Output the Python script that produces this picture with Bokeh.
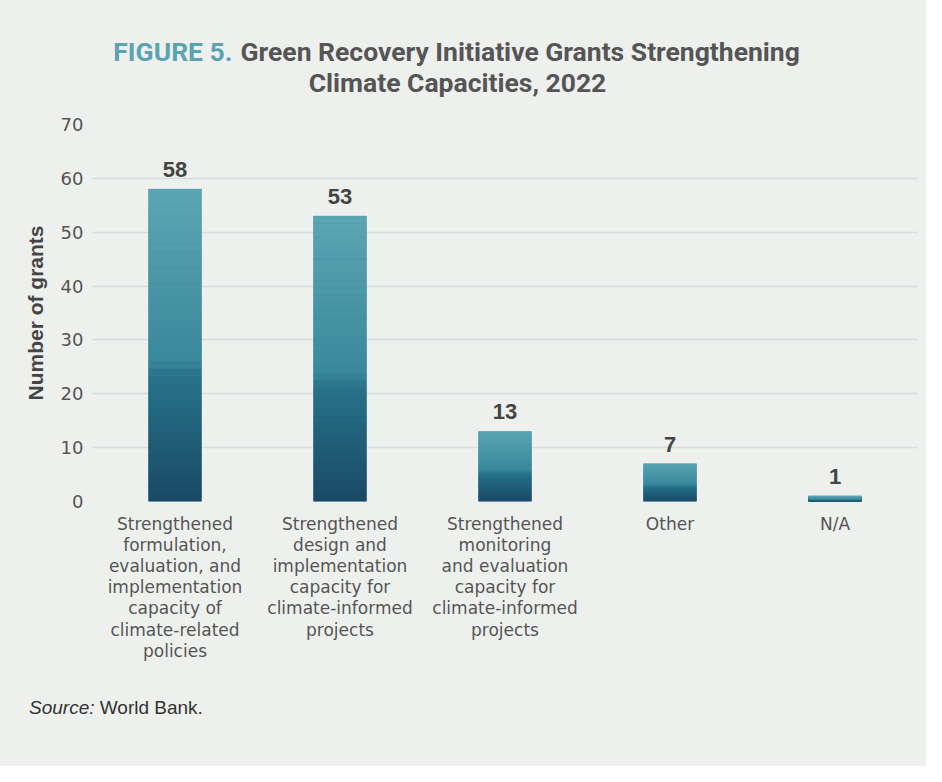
from bokeh.plotting import figure
from bokeh.layouts import column
from bokeh.models import Label, LabelSet, ColumnDataSource, Range1d, Div
from bokeh.core.properties import value
from bokeh.embed import file_html
from bokeh.resources import INLINE

# ---- data ----
categories = [
    "Strengthened\nformulation,\nevaluation, and\nimplementation\ncapacity of\nclimate-related\npolicies",
    "Strengthened\ndesign and\nimplementation\ncapacity for\nclimate-informed\nprojects",
    "Strengthened\nmonitoring\nand evaluation\ncapacity for\nclimate-informed\nprojects",
    "Other",
    "N/A",
]
values = [58, 53, 13, 7, 1]
y_ticks = [0, 10, 20, 30, 40, 50, 60, 70]
title_prefix = "FIGURE 5."
title_line1 = "Green Recovery Initiative Grants Strengthening"
title_line2 = "Climate Capacities, 2022"
source_label = "Source:"
source_text = "World Bank."

BG = "#eef0ee"
TXT = "#555555"
FONT = "Liberation Sans"
TICKFONT = "DejaVu Sans"
TFONT = "Roboto"
W = 926
TOP_H, MAIN_H, BOT_H = 109, 582, 75
L_BORDER, R_BORDER = 92, 9

# ---- title (its frame lines up with the chart's frame) ----
t = figure(width=W, height=TOP_H, x_range=Range1d(L_BORDER, W - R_BORDER),
           y_range=Range1d(0, TOP_H), output_backend="svg", toolbar_location=None,
           x_axis_location=None, y_axis_location=None,
           min_border_left=L_BORDER, min_border_right=R_BORDER,
           min_border_top=0, min_border_bottom=0, styles={"background-color": BG})
t.background_fill_color = BG
t.border_fill_color = BG
t.outline_line_color = None
t.grid.grid_line_color = None
tc = dict(text_baseline="alphabetic", text_font=TFONT, text_font_style="bold",
          text_font_size="26.5px")
t.add_layout(Label(x=232, y=58.5, text=title_prefix, text_align="right", text_color="#5ba3b0", **tc))
t.add_layout(Label(x=240, y=58.5, text=title_line1, text_align="left", text_color="#555555", **tc))
t.add_layout(Label(x=457, y=27.5, text=title_line2, text_align="center", text_color="#555555", **tc))

# ---- main chart ----
p = figure(
    width=W, height=MAIN_H,
    x_range=categories, y_range=(0, 70),
    output_backend="svg", toolbar_location=None,
    min_border_left=L_BORDER, min_border_right=R_BORDER,
    min_border_top=15, min_border_bottom=190, styles={"background-color": BG},
)
p.background_fill_color = BG
p.border_fill_color = BG
p.outline_line_color = None

stops = [(0.0, (91, 166, 180)), (0.55, (58, 136, 155)), (0.6, (39, 114, 138)), (1.0, (26, 73, 101))]


def grad(tt):
    for (t0, c0), (t1, c1) in zip(stops[:-1], stops[1:]):
        if t0 <= tt <= t1:
            f = (tt - t0) / (t1 - t0) if t1 > t0 else 0
            return "#%02x%02x%02x" % tuple(int(round(a + (b - a) * f)) for a, b in zip(c0, c1))
    return "#%02x%02x%02x" % stops[-1][1]


N = 40
bx, bb, bt, bc = [], [], [], []
for cat, v in zip(categories, values):
    for k in range(N):
        bx.append(cat)
        bb.append(v * k / N)
        bt.append(v * (k + 1) / N)
        bc.append(grad(1 - (k + 0.5) / N))

p.vbar(x=categories, top=values, width=0.32, fill_color="#2f7a90", line_color=None)
p.vbar(x=bx, bottom=bb, top=bt, width=0.32, fill_color=bc, line_color=bc, line_width=0.5)

src = ColumnDataSource(dict(x=categories, y=values, t=[str(v) for v in values]))
p.add_layout(LabelSet(x="x", y="y", text="t", source=src, text_align="center",
                      text_baseline="alphabetic", y_offset=12,
                      text_font=value(FONT), text_font_style="bold", text_font_size="22px",
                      text_color="#444444"))

p.xaxis.axis_line_color = None
p.xaxis.major_tick_line_color = None
p.xaxis.minor_tick_line_color = None
p.xaxis.major_tick_out = 0
p.xaxis.major_tick_in = 0
p.xaxis.major_label_text_font = TICKFONT
p.xaxis.major_label_text_font_size = "17px"
p.xaxis.major_label_text_line_height = 1.06
p.xaxis.major_label_text_color = TXT
p.xaxis.major_label_standoff = 12

p.yaxis.ticker = y_ticks
p.yaxis.axis_line_color = None
p.yaxis.major_tick_line_color = None
p.yaxis.minor_tick_line_color = None
p.yaxis.major_tick_out = 0
p.yaxis.major_tick_in = 0
p.yaxis.major_label_text_font = TICKFONT
p.yaxis.major_label_text_font_size = "18px"
p.yaxis.major_label_text_color = TXT
p.yaxis.major_label_standoff = 9
p.yaxis.axis_label = "Number of grants"
p.yaxis.axis_label_text_font = FONT
p.yaxis.axis_label_text_font_style = "bold"
p.yaxis.axis_label_text_font_size = "21px"
p.yaxis.axis_label_text_color = "#444444"
p.yaxis.axis_label_standoff = 11

p.xgrid.grid_line_color = None
p.ygrid.grid_line_color = "#d9dcdc"
p.ygrid.grid_line_width = 1.5

# ---- source note ----
s = Div(
    text=('<div style="padding:6px 0 0 29px;font-family:\'Liberation Sans\';font-size:19px;'
          'color:#333333;line-height:normal;white-space:nowrap">'
          '<i>%s</i> %s</div>' % (source_label, source_text)),
    width=W, height=BOT_H, margin=(0, 0, 0, 0),
    styles={"background-color": BG},
)

layout = column(t, p, s, spacing=0, styles={"background-color": BG})
open("out.html", "w").write(file_html(layout, INLINE))
